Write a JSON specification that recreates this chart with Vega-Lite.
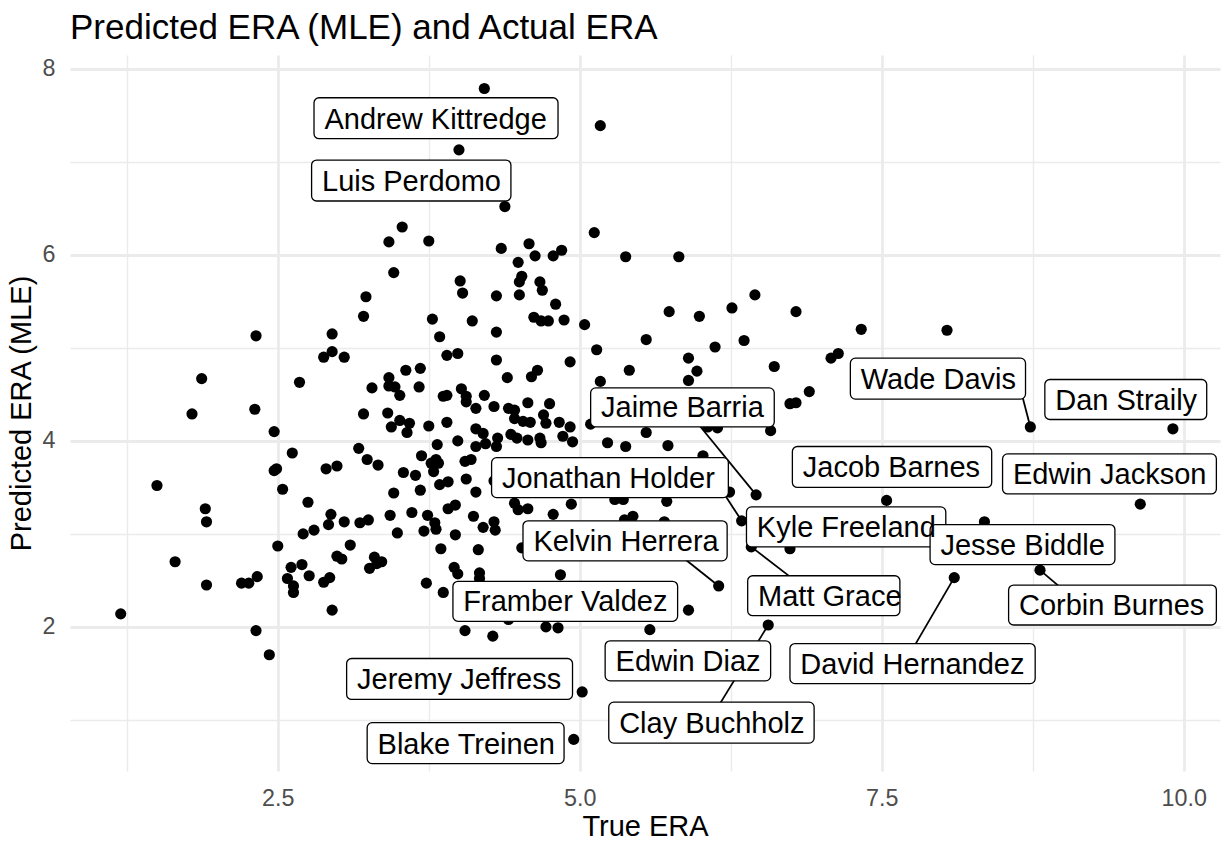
{
  "$schema": "https://vega.github.io/schema/vega-lite/v6.json",
  "width": 1150,
  "height": 716,
  "autosize": {"type": "none"},
  "padding": {"left": 70, "top": 55, "right": 5, "bottom": 73},
  "background": "white",
  "title": {
    "text": "Predicted ERA (MLE) and Actual ERA",
    "anchor": "start",
    "frame": "group",
    "font": "Liberation Sans",
    "fontSize": 35,
    "fontWeight": "normal",
    "color": "#000000",
    "baseline": "alphabetic",
    "offset": 14,
    "dy": 33
  },
  "config": {"view": {"stroke": null}, "font": "Liberation Sans"},
  "datasets": {
    "pitchers": [
      {"era": 2.32, "pred": 5.13}, {"era": 2.95, "pred": 5.15}, {"era": 2.95, "pred": 4.96}, {"era": 2.88, "pred": 4.90},
      {"era": 3.05, "pred": 4.90}, {"era": 1.87, "pred": 4.67}, {"era": 2.68, "pred": 4.63}, {"era": 1.79, "pred": 4.29},
      {"era": 2.31, "pred": 4.34}, {"era": 2.47, "pred": 4.10}, {"era": 2.62, "pred": 3.87}, {"era": 1.50, "pred": 3.52},
      {"era": 2.47, "pred": 3.68}, {"era": 2.49, "pred": 3.70}, {"era": 2.54, "pred": 3.48}, {"era": 2.90, "pred": 3.70},
      {"era": 2.99, "pred": 3.73}, {"era": 1.90, "pred": 3.27}, {"era": 1.91, "pred": 3.13}, {"era": 2.75, "pred": 3.34},
      {"era": 2.94, "pred": 3.21}, {"era": 2.92, "pred": 3.10}, {"era": 3.05, "pred": 3.13}, {"era": 2.71, "pred": 3.00},
      {"era": 2.80, "pred": 3.04}, {"era": 2.50, "pred": 2.87}, {"era": 1.65, "pred": 2.70}, {"era": 2.99, "pred": 2.76},
      {"era": 3.03, "pred": 2.73}, {"era": 3.10, "pred": 2.88}, {"era": 2.61, "pred": 2.64}, {"era": 2.70, "pred": 2.67},
      {"era": 2.76, "pred": 2.55}, {"era": 1.91, "pred": 2.45}, {"era": 2.20, "pred": 2.47}, {"era": 2.26, "pred": 2.47},
      {"era": 2.33, "pred": 2.54}, {"era": 2.58, "pred": 2.52}, {"era": 2.63, "pred": 2.44}, {"era": 2.63, "pred": 2.37},
      {"era": 2.88, "pred": 2.48}, {"era": 2.93, "pred": 2.53}, {"era": 2.95, "pred": 2.18}, {"era": 1.20, "pred": 2.14},
      {"era": 2.32, "pred": 1.96}, {"era": 2.43, "pred": 1.70}, {"era": 3.46, "pred": 5.81}, {"era": 3.23, "pred": 5.55},
      {"era": 3.21, "pred": 5.34}, {"era": 4.01, "pred": 5.72}, {"era": 4.03, "pred": 5.59}, {"era": 4.31, "pred": 5.56},
      {"era": 3.78, "pred": 5.31}, {"era": 4.11, "pred": 5.29}, {"era": 3.84, "pred": 5.12}, {"era": 4.31, "pred": 5.17},
      {"era": 3.90, "pred": 4.92}, {"era": 3.99, "pred": 4.94}, {"era": 4.31, "pred": 4.87}, {"era": 3.56, "pred": 4.76},
      {"era": 3.68, "pred": 4.78}, {"era": 3.42, "pred": 4.68}, {"era": 3.28, "pred": 4.57}, {"era": 3.42, "pred": 4.59},
      {"era": 3.47, "pred": 4.58}, {"era": 3.51, "pred": 4.49}, {"era": 3.67, "pred": 4.58}, {"era": 3.87, "pred": 4.48},
      {"era": 3.90, "pred": 4.49}, {"era": 4.02, "pred": 4.56}, {"era": 4.06, "pred": 4.48}, {"era": 4.06, "pred": 4.42},
      {"era": 4.21, "pred": 4.49}, {"era": 4.14, "pred": 4.35}, {"era": 4.29, "pred": 4.37}, {"era": 3.21, "pred": 4.29},
      {"era": 3.41, "pred": 4.30}, {"era": 3.51, "pred": 4.22}, {"era": 3.44, "pred": 4.15}, {"era": 3.59, "pred": 4.19},
      {"era": 3.57, "pred": 4.09}, {"era": 3.75, "pred": 4.16}, {"era": 3.90, "pred": 4.20}, {"era": 4.14, "pred": 4.13},
      {"era": 4.20, "pred": 4.08}, {"era": 4.32, "pred": 4.03}, {"era": 3.82, "pred": 3.96}, {"era": 3.99, "pred": 4.00},
      {"era": 4.14, "pred": 3.94}, {"era": 4.22, "pred": 3.97}, {"era": 3.17, "pred": 3.92}, {"era": 4.31, "pred": 3.94},
      {"era": 3.24, "pred": 3.80}, {"era": 3.33, "pred": 3.74}, {"era": 3.69, "pred": 3.84}, {"era": 3.54, "pred": 3.66},
      {"era": 3.64, "pred": 3.63}, {"era": 3.77, "pred": 3.76}, {"era": 3.81, "pred": 3.80}, {"era": 3.83, "pred": 3.76},
      {"era": 3.79, "pred": 3.67}, {"era": 3.84, "pred": 3.53}, {"era": 3.91, "pred": 3.56}, {"era": 4.06, "pred": 3.59},
      {"era": 4.05, "pred": 3.78}, {"era": 4.10, "pred": 3.80}, {"era": 4.29, "pred": 3.57}, {"era": 4.14, "pred": 3.45},
      {"era": 3.46, "pred": 3.44}, {"era": 3.68, "pred": 3.47}, {"era": 3.91, "pred": 3.27}, {"era": 3.97, "pred": 3.31},
      {"era": 3.43, "pred": 3.20}, {"era": 3.61, "pred": 3.23}, {"era": 3.74, "pred": 3.20}, {"era": 3.80, "pred": 3.12},
      {"era": 3.81, "pred": 3.05}, {"era": 3.71, "pred": 3.03}, {"era": 3.49, "pred": 3.01}, {"era": 4.12, "pred": 3.19},
      {"era": 4.20, "pred": 3.07}, {"era": 4.29, "pred": 3.13}, {"era": 4.30, "pred": 3.04}, {"era": 3.18, "pred": 3.12},
      {"era": 3.25, "pred": 3.15}, {"era": 3.97, "pred": 2.99}, {"era": 3.85, "pred": 2.84}, {"era": 4.16, "pred": 2.83},
      {"era": 3.30, "pred": 2.75}, {"era": 3.36, "pred": 2.70}, {"era": 3.26, "pred": 2.63}, {"era": 3.32, "pred": 2.68},
      {"era": 3.96, "pred": 2.64}, {"era": 3.99, "pred": 2.57}, {"era": 4.17, "pred": 2.58}, {"era": 4.17, "pred": 2.52},
      {"era": 3.73, "pred": 2.47}, {"era": 3.87, "pred": 2.37}, {"era": 4.05, "pred": 1.96}, {"era": 4.28, "pred": 1.90},
      {"era": 4.49, "pred": 5.92}, {"era": 4.63, "pred": 5.99}, {"era": 4.78, "pred": 5.99}, {"era": 4.85, "pred": 6.05},
      {"era": 5.38, "pred": 5.98}, {"era": 4.52, "pred": 5.77}, {"era": 4.50, "pred": 5.71}, {"era": 4.67, "pred": 5.71},
      {"era": 4.69, "pred": 5.62}, {"era": 4.50, "pred": 5.57}, {"era": 4.80, "pred": 5.47}, {"era": 4.62, "pred": 5.33},
      {"era": 4.68, "pred": 5.29}, {"era": 4.74, "pred": 5.29}, {"era": 4.87, "pred": 5.30}, {"era": 5.04, "pred": 5.25},
      {"era": 5.55, "pred": 5.09}, {"era": 5.14, "pred": 4.98}, {"era": 4.92, "pred": 4.85}, {"era": 5.41, "pred": 4.76},
      {"era": 4.65, "pred": 4.76}, {"era": 4.60, "pred": 4.69}, {"era": 4.40, "pred": 4.68}, {"era": 5.17, "pred": 4.64},
      {"era": 4.57, "pred": 4.41}, {"era": 4.75, "pred": 4.40}, {"era": 4.41, "pred": 4.35}, {"era": 4.46, "pred": 4.33},
      {"era": 4.46, "pred": 4.24}, {"era": 4.53, "pred": 4.21}, {"era": 4.59, "pred": 4.20}, {"era": 4.70, "pred": 4.28},
      {"era": 4.72, "pred": 4.19}, {"era": 4.83, "pred": 4.20}, {"era": 4.92, "pred": 4.15}, {"era": 4.86, "pred": 4.05},
      {"era": 4.94, "pred": 3.99}, {"era": 4.43, "pred": 4.07}, {"era": 4.48, "pred": 4.03}, {"era": 4.57, "pred": 4.01},
      {"era": 4.67, "pred": 4.03}, {"era": 4.68, "pred": 3.98}, {"era": 5.09, "pred": 4.18}, {"era": 5.23, "pred": 3.98},
      {"era": 5.38, "pred": 3.94}, {"era": 5.55, "pred": 4.09}, {"era": 4.46, "pred": 3.33}, {"era": 4.49, "pred": 3.26},
      {"era": 4.57, "pred": 3.27}, {"era": 4.93, "pred": 3.32}, {"era": 4.78, "pred": 3.21}, {"era": 4.52, "pred": 2.85},
      {"era": 4.84, "pred": 2.56}, {"era": 4.72, "pred": 2.00}, {"era": 4.82, "pred": 1.99}, {"era": 4.41, "pred": 2.08},
      {"era": 5.58, "pred": 1.97}, {"era": 5.29, "pred": 3.37}, {"era": 5.36, "pred": 3.37}, {"era": 5.44, "pred": 3.19},
      {"era": 5.37, "pred": 3.15}, {"era": 4.21, "pred": 7.79}, {"era": 5.17, "pred": 7.39}, {"era": 4.00, "pred": 7.13},
      {"era": 4.38, "pred": 6.52}, {"era": 3.53, "pred": 6.30}, {"era": 3.42, "pred": 6.14}, {"era": 3.75, "pred": 6.15},
      {"era": 4.35, "pred": 6.07}, {"era": 4.58, "pred": 6.12}, {"era": 5.12, "pred": 6.24}, {"era": 5.82, "pred": 5.98},
      {"era": 6.45, "pred": 5.57}, {"era": 5.74, "pred": 5.39}, {"era": 5.99, "pred": 5.34}, {"era": 6.26, "pred": 5.43},
      {"era": 6.79, "pred": 5.39}, {"era": 6.36, "pred": 5.08}, {"era": 6.12, "pred": 5.01}, {"era": 7.33, "pred": 5.20},
      {"era": 7.08, "pred": 4.89}, {"era": 7.14, "pred": 4.94}, {"era": 5.90, "pred": 4.89}, {"era": 5.97, "pred": 4.75},
      {"era": 5.90, "pred": 4.65}, {"era": 6.61, "pred": 4.80}, {"era": 6.90, "pred": 4.53}, {"era": 6.74, "pred": 4.40},
      {"era": 6.79, "pred": 4.41}, {"era": 6.58, "pred": 4.11}, {"era": 6.06, "pred": 4.15}, {"era": 6.14, "pred": 4.14},
      {"era": 5.73, "pred": 3.95}, {"era": 6.02, "pred": 3.84}, {"era": 6.24, "pred": 3.45}, {"era": 6.46, "pred": 3.42},
      {"era": 5.72, "pred": 3.35}, {"era": 5.70, "pred": 3.13}, {"era": 6.34, "pred": 3.14}, {"era": 6.42, "pred": 2.86},
      {"era": 6.74, "pred": 2.84}, {"era": 6.15, "pred": 2.44}, {"era": 5.90, "pred": 2.18}, {"era": 6.56, "pred": 2.02},
      {"era": 7.54, "pred": 3.36}, {"era": 8.04, "pred": 5.19}, {"era": 8.73, "pred": 4.15}, {"era": 9.91, "pred": 4.13},
      {"era": 9.64, "pred": 3.32}, {"era": 8.35, "pred": 3.13}, {"era": 8.81, "pred": 2.61}, {"era": 8.10, "pred": 2.53},
      {"era": 5.02, "pred": 1.30}, {"era": 4.95, "pred": 0.79}
    ],
    "named": [
      {"name": "Andrew Kittredge", "era": 4.21, "pred": 7.79, "bx1": 2.80, "bx2": 4.82, "by1": 7.25, "by2": 7.69},
      {"name": "Luis Perdomo", "era": 4.00, "pred": 7.13, "bx1": 2.78, "bx2": 4.43, "by1": 6.58, "by2": 7.02},
      {"name": "Jaime Barria", "era": 6.46, "pred": 3.42, "bx1": 5.09, "bx2": 6.61, "by1": 4.15, "by2": 4.57, "sx": 5.95, "sy": 4.23},
      {"name": "Wade Davis", "era": 8.73, "pred": 4.15, "bx1": 7.24, "bx2": 8.69, "by1": 4.45, "by2": 4.89, "sx": 8.64, "sy": 4.60},
      {"name": "Dan Straily", "era": 9.91, "pred": 4.13, "bx1": 8.85, "bx2": 10.19, "by1": 4.23, "by2": 4.66},
      {"name": "Jacob Barnes", "era": 7.54, "pred": 3.36, "bx1": 6.76, "bx2": 8.41, "by1": 3.50, "by2": 3.94},
      {"name": "Edwin Jackson", "era": 9.64, "pred": 3.32, "bx1": 8.50, "bx2": 10.27, "by1": 3.43, "by2": 3.86},
      {"name": "Jonathan Holder", "era": 6.34, "pred": 3.14, "bx1": 4.27, "bx2": 6.23, "by1": 3.39, "by2": 3.82, "sx": 6.20, "sy": 3.42},
      {"name": "Kyle Freeland", "era": 6.74, "pred": 2.84, "bx1": 6.38, "bx2": 8.03, "by1": 2.86, "by2": 3.29},
      {"name": "Kelvin Herrera", "era": 6.15, "pred": 2.44, "bx1": 4.53, "bx2": 6.22, "by1": 2.71, "by2": 3.14, "sx": 5.83, "sy": 2.77},
      {"name": "Jesse Biddle", "era": 8.35, "pred": 3.13, "bx1": 7.90, "bx2": 9.43, "by1": 2.67, "by2": 3.10},
      {"name": "Matt Grace", "era": 6.42, "pred": 2.86, "bx1": 6.39, "bx2": 7.65, "by1": 2.12, "by2": 2.55, "sx": 6.78, "sy": 2.50},
      {"name": "Corbin Burnes", "era": 8.81, "pred": 2.61, "bx1": 8.55, "bx2": 10.27, "by1": 2.02, "by2": 2.45, "sx": 9.00, "sy": 2.40},
      {"name": "Framber Valdez", "era": 5.90, "pred": 2.18, "bx1": 3.95, "bx2": 5.81, "by1": 2.06, "by2": 2.49},
      {"name": "Edwin Diaz", "era": 5.58, "pred": 1.97, "bx1": 5.21, "bx2": 6.58, "by1": 1.42, "by2": 1.85},
      {"name": "Clay Buchholz", "era": 6.56, "pred": 2.02, "bx1": 5.24, "bx2": 6.94, "by1": 0.75, "by2": 1.19, "sx": 6.13, "sy": 1.11},
      {"name": "Jeremy Jeffress", "era": 5.02, "pred": 1.30, "bx1": 3.07, "bx2": 4.94, "by1": 1.22, "by2": 1.66},
      {"name": "Blake Treinen", "era": 4.95, "pred": 0.79, "bx1": 3.24, "bx2": 4.87, "by1": 0.53, "by2": 0.97},
      {"name": "David Hernandez", "era": 8.10, "pred": 2.53, "bx1": 6.74, "bx2": 8.77, "by1": 1.39, "by2": 1.82, "sx": 7.75, "sy": 1.75}
    ]
  },
  "layer": [
    {
      "data": {"name": "pitchers"},
      "mark": {"type": "point", "opacity": 0},
      "encoding": {
        "x": {
          "field": "era", "type": "quantitative",
          "scale": {"domain": [0.78, 10.3], "nice": false, "zero": false},
          "axis": {"orient": "bottom", "values": [1.25, 3.75, 6.25, 8.75], "grid": true, "gridColor": "#EBEBEB", "gridWidth": 1.4,
                   "labels": false, "ticks": false, "domain": false, "title": null}
        },
        "y": {
          "field": "pred", "type": "quantitative",
          "scale": {"domain": [0.45, 8.15], "nice": false, "zero": false},
          "axis": {"orient": "left", "values": [1, 3, 5, 7], "grid": true, "gridColor": "#EBEBEB", "gridWidth": 1.4,
                   "labels": false, "ticks": false, "domain": false, "title": null}
        }
      }
    },
    {
      "data": {"name": "pitchers"},
      "mark": {"type": "circle", "size": 125, "color": "#000000", "opacity": 1},
      "encoding": {
        "x": {
          "field": "era", "type": "quantitative",
          "axis": {"orient": "bottom", "values": [2.5, 5, 7.5, 10], "format": ".1f", "grid": true, "gridColor": "#EBEBEB", "gridWidth": 2.8,
                   "ticks": false, "domain": false, "labelFontSize": 23.3, "labelColor": "#4D4D4D", "labelPadding": 16,
                   "labelFont": "Liberation Sans", "title": "True ERA", "titleFontSize": 29, "titleFontWeight": "normal",
                   "titleColor": "#000000", "titleFont": "Liberation Sans", "titlePadding": 3}
        },
        "y": {
          "field": "pred", "type": "quantitative",
          "axis": {"orient": "left", "values": [2, 4, 6, 8], "format": "d", "grid": true, "gridColor": "#EBEBEB", "gridWidth": 2.8,
                   "ticks": false, "domain": false, "labelFontSize": 23.3, "labelColor": "#4D4D4D", "labelPadding": 15,
                   "labelFont": "Liberation Sans", "title": "Predicted ERA (MLE)", "titleFontSize": 29, "titleFontWeight": "normal",
                   "titleColor": "#000000", "titleFont": "Liberation Sans", "titlePadding": 6}
        }
      }
    },
    {
      "data": {"name": "named"},
      "transform": [{"filter": "isValid(datum.sx)"}],
      "mark": {"type": "rule", "color": "#000000", "strokeWidth": 1.8},
      "encoding": {
        "x": {"field": "era", "type": "quantitative", "axis": null},
        "y": {"field": "pred", "type": "quantitative", "axis": null},
        "x2": {"field": "sx"},
        "y2": {"field": "sy"}
      }
    },
    {
      "data": {"name": "named"},
      "mark": {"type": "rect", "fill": "#FFFFFF", "stroke": "#000000", "strokeWidth": 1.3, "cornerRadius": 5},
      "encoding": {
        "x": {"field": "bx1", "type": "quantitative", "axis": null},
        "x2": {"field": "bx2"},
        "y": {"field": "by1", "type": "quantitative", "axis": null},
        "y2": {"field": "by2"}
      }
    },
    {
      "data": {"name": "named"},
      "mark": {"type": "text", "align": "left", "baseline": "alphabetic", "dx": 10.4, "dy": -10, "fontSize": 29, "font": "Liberation Sans", "color": "#000000"},
      "encoding": {
        "x": {"field": "bx1", "type": "quantitative", "axis": null},
        "y": {"field": "by1", "type": "quantitative", "axis": null},
        "text": {"field": "name"}
      }
    }
  ],
  "resolve": {"axis": {"x": "independent", "y": "independent"}}
}
